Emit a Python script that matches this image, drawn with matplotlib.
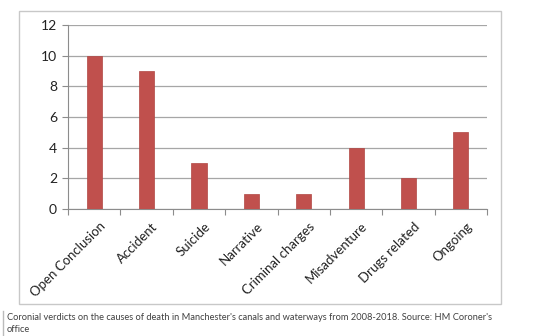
import matplotlib.pyplot as plt
from matplotlib.patches import Rectangle
from matplotlib.transforms import ScaledTranslation

# verdicts data
verdicts = ["Open Conclusion", "Accident", "Suicide", "Narrative",
            "Criminal charges", "Misadventure", "Drugs related", "Ongoing"]
deaths = [10, 9, 3, 1, 1, 4, 2, 5]

plt.rcParams['font.family'] = ['Lato', 'DejaVu Sans']

fig = plt.figure(figsize=(5.4, 3.36), dpi=100)
fig.patch.set_facecolor("white")

# outer chart frame
frame = Rectangle((0.035, 0.095), 0.893, 0.872, transform=fig.transFigure,
                  fill=False, edgecolor="#c8c8c8", linewidth=1.0)
fig.add_artist(frame)

ax = fig.add_axes([0.126, 0.378, 0.776, 0.548])
x = range(len(verdicts))
ax.bar(x, deaths, width=0.29, color="#c0504d", edgecolor="#b04643",
       linewidth=0.5, zorder=3)

ax.set_xlim(-0.5, len(verdicts) - 0.5)
ax.set_ylim(0, 12)
ax.set_yticks(range(0, 13, 2))
ax.yaxis.grid(True, color="#a6a6a6", linewidth=0.9)
ax.set_axisbelow(True)

for s in ["top", "right"]:
    ax.spines[s].set_visible(False)
ax.spines["left"].set_color("#8c8c8c")
ax.spines["bottom"].set_color("#8c8c8c")

# ticks at category boundaries on x
ax.set_xticks([i - 0.5 for i in range(len(verdicts) + 1)])
ax.set_xticklabels([])
ax.set_xticks(list(x), minor=True)
ax.set_xticklabels(verdicts, minor=True, rotation=45, ha="right",
                   rotation_mode="anchor", fontsize=9.5, color="#222222")
ax.tick_params(axis="x", which="minor", length=0, pad=8)
ax.tick_params(axis="x", which="major", length=4, color="#8c8c8c")
ax.tick_params(axis="y", length=4, color="#8c8c8c", labelsize=10,
               labelcolor="#222222", pad=4)

shift = ScaledTranslation(5 / 100, 0, fig.dpi_scale_trans)
for lbl in ax.get_xticklabels(minor=True):
    lbl.set_transform(lbl.get_transform() + shift)

# caption
fig.text(0.013, 0.055,
         "Coronial verdicts on the causes of death in Manchester's canals and waterways from 2008-2018. Source: HM Coroner's",
         fontsize=6.7, color="#404040", va="center")
fig.text(0.013, 0.018, "office", fontsize=6.7, color="#404040", va="center")
fig.add_artist(plt.Line2D([0.005, 0.005], [0.0, 0.075], transform=fig.transFigure,
                          color="#bbbbbb", linewidth=1.0))

fig.savefig("out.png", dpi=100)
